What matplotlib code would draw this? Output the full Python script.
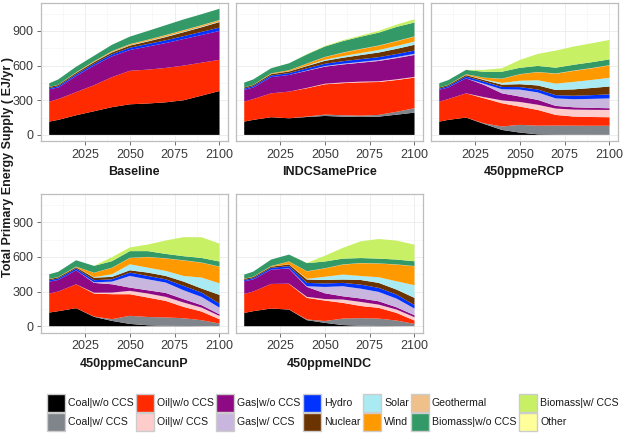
import matplotlib
matplotlib.use("Agg")
import matplotlib.pyplot as plt
from matplotlib.patches import Rectangle
import numpy as np

plt.rcParams['font.family'] = ['Liberation Sans', 'DejaVu Sans']

years = [2005, 2010, 2020, 2030, 2040, 2050, 2060, 2070, 2080, 2090, 2100]

fuels = ["Coal|w/o CCS", "Coal|w/ CCS", "Oil|w/o CCS", "Oil|w/ CCS",
         "Gas|w/o CCS", "Gas|w/ CCS", "Hydro", "Nuclear", "Solar", "Wind",
         "Geothermal", "Biomass|w/o CCS", "Biomass|w/ CCS", "Other"]
colors = ["#000000", "#80858B", "#FF2A00", "#FFCCCC", "#8E0A84", "#C9B6DE",
          "#0033FF", "#6B3300", "#AAEAF2", "#FF9900", "#F0C08A", "#339966",
          "#C8F064", "#FFFF99"]

# EJ/yr, one row per fuel (same order as fuels)
baseline = [
    [115, 130, 170, 205, 240, 265, 272, 282, 300, 340, 380],
    [0, 0, 0, 0, 0, 0, 0, 0, 0, 0, 0],
    [173, 180, 200, 225, 260, 290, 293, 298, 300, 285, 270],
    [0, 0, 0, 0, 0, 0, 0, 0, 0, 0, 0],
    [107, 100, 140, 170, 180, 180, 200, 215, 230, 240, 250],
    [0, 0, 0, 0, 0, 0, 0, 0, 0, 0, 0],
    [10, 12, 14, 16, 18, 20, 22, 24, 25, 27, 29],
    [10, 10, 12, 14, 16, 18, 22, 28, 34, 40, 48],
    [0, 0, 1, 2, 3, 4, 5, 6, 6, 6, 6],
    [1, 2, 4, 5, 6, 7, 8, 9, 9, 9, 9],
    [0, 0, 1, 1, 2, 2, 2, 3, 3, 3, 3],
    [31, 46, 48, 47, 55, 65, 76, 85, 93, 95, 97],
    [0, 0, 0, 0, 0, 0, 0, 0, 0, 0, 0],
    [0, 0, 0, 0, 0, 0, 0, 0, 0, 0, 0],
]

indc_same_price = [
    [115, 130, 153, 144, 155, 164, 158, 155, 158, 175, 193],
    [0, 0, 0, 0, 4, 12, 12, 12, 15, 25, 38],
    [173, 180, 207, 231, 245, 262, 278, 288, 285, 275, 265],
    [0, 0, 0, 0, 3, 5, 6, 6, 6, 6, 6],
    [102, 100, 140, 144, 148, 148, 156, 164, 176, 184, 190],
    [0, 0, 0, 0, 3, 5, 6, 7, 8, 9, 10],
    [10, 12, 14, 16, 18, 20, 22, 24, 25, 26, 28],
    [10, 10, 12, 14, 20, 25, 30, 35, 40, 45, 50],
    [0, 0, 1, 2, 5, 10, 14, 18, 22, 25, 28],
    [1, 2, 5, 8, 15, 22, 28, 33, 36, 40, 42],
    [0, 0, 1, 1, 2, 2, 3, 3, 3, 3, 3],
    [42, 46, 44, 60, 79, 90, 99, 105, 111, 122, 120],
    [0, 0, 0, 0, 3, 5, 8, 10, 15, 20, 28],
    [0, 0, 0, 0, 0, 0, 0, 0, 0, 0, 0],
]

ppm450_rcp = [
    [115, 130, 150, 95, 43, 20, 5, 3, 2, 1, 1],
    [0, 0, 0, 5, 30, 67, 75, 78, 78, 78, 78],
    [173, 180, 210, 217, 201, 158, 136, 92, 79, 76, 74],
    [0, 0, 0, 10, 25, 40, 45, 55, 60, 62, 63],
    [102, 100, 130, 106, 61, 47, 42, 23, 20, 17, 15],
    [0, 0, 0, 10, 35, 60, 65, 65, 70, 78, 85],
    [10, 12, 16, 18, 20, 22, 25, 28, 30, 32, 35],
    [10, 10, 12, 14, 20, 25, 35, 45, 55, 62, 68],
    [0, 0, 1, 5, 15, 30, 45, 55, 65, 70, 75],
    [1, 2, 5, 15, 35, 55, 70, 85, 95, 100, 107],
    [0, 0, 1, 1, 2, 2, 2, 3, 3, 3, 3],
    [36, 40, 38, 50, 60, 55, 52, 50, 50, 50, 50],
    [0, 0, 0, 17, 30, 68, 104, 148, 158, 164, 168],
    [0, 0, 0, 0, 0, 0, 0, 0, 0, 0, 0],
]

ppm450_cancunp = [
    [118, 130, 156, 81, 46, 20, 8, 3, 2, 1, 0],
    [0, 0, 0, 3, 15, 70, 72, 73, 67, 51, 23],
    [165, 170, 207, 199, 216, 187, 168, 143, 98, 75, 37],
    [0, 0, 0, 7, 14, 29, 35, 35, 38, 34, 29],
    [103, 100, 121, 85, 72, 28, 28, 34, 29, 21, 14],
    [0, 0, 0, 5, 23, 101, 95, 90, 77, 72, 58],
    [12, 13, 16, 18, 20, 29, 29, 28, 38, 37, 35],
    [10, 10, 10, 22, 21, 20, 29, 29, 37, 35, 75],
    [0, 0, 1, 5, 23, 52, 43, 44, 49, 95, 100],
    [2, 3, 4, 37, 55, 54, 91, 107, 134, 128, 144],
    [0, 0, 1, 1, 2, 2, 2, 2, 2, 2, 2],
    [40, 45, 55, 59, 56, 58, 50, 38, 35, 40, 43],
    [0, 0, 0, 0, 35, 32, 57, 116, 165, 179, 155],
    [0, 0, 0, 0, 0, 0, 0, 0, 0, 0, 0],
]

ppm450_indc = [
    [115, 130, 153, 144, 52, 29, 10, 4, 2, 1, 0],
    [0, 0, 0, 1, 6, 16, 56, 66, 64, 48, 20],
    [165, 170, 213, 221, 187, 177, 136, 105, 93, 66, 29],
    [0, 0, 0, 2, 9, 13, 29, 35, 28, 29, 29],
    [109, 105, 124, 131, 86, 50, 28, 30, 29, 20, 17],
    [0, 0, 0, 2, 6, 55, 87, 85, 81, 75, 58],
    [11, 11, 15, 19, 29, 30, 29, 35, 35, 35, 29],
    [10, 10, 10, 15, 29, 30, 29, 40, 43, 43, 63],
    [0, 0, 1, 2, 6, 28, 43, 35, 49, 72, 110],
    [2, 3, 4, 23, 64, 72, 86, 110, 118, 144, 164],
    [0, 0, 1, 1, 2, 2, 2, 2, 2, 2, 2],
    [35, 43, 56, 59, 70, 58, 50, 43, 41, 42, 41],
    [0, 0, 0, 0, 2, 50, 93, 145, 170, 164, 144],
    [0, 0, 0, 0, 0, 0, 0, 0, 0, 0, 0],
]

scenarios = ["Baseline", "INDCSamePrice", "450ppmeRCP", "450ppmeCancunP", "450ppmeINDC"]
scenario_data = [baseline, indc_same_price, ppm450_rcp, ppm450_cancunp, ppm450_indc]

W, H = 624, 433
fig = plt.figure(figsize=(W / 100, H / 100), dpi=100)

# panel boxes in pixels: left, top
col_left = [40.7, 235.7, 430.7]
row_top = [2.7, 194.0]
pw, ph = 187.3, 138.5

for i, (name, data) in enumerate(zip(scenarios, scenario_data)):
    r, c = divmod(i, 3)
    ax = fig.add_axes([col_left[c] / W, 1 - (row_top[r] + ph) / H, pw / W, ph / H])
    ax.stackplot(years, *data, colors=colors, linewidth=0, zorder=2)
    ax.set_xlim(2000.25, 2104.75)
    ax.set_ylim(-54.5, 1144.5)
    ax.set_xticks([2025, 2050, 2075, 2100])
    ax.set_xticks([2012.5, 2037.5, 2062.5, 2087.5], minor=True)
    ax.set_yticks([0, 300, 600, 900])
    ax.set_yticks([150, 450, 750, 1050], minor=True)
    ax.grid(which='major', color='#EBEBEB', linewidth=0.6, zorder=0)
    ax.grid(which='minor', color='#F3F3F3', linewidth=0.4, zorder=0)
    ax.set_axisbelow(True)
    for s in ax.spines.values():
        s.set_color('#BDBDBD')
        s.set_linewidth(0.9)
    ax.tick_params(which='major', length=3, width=0.6, color='#555555',
                   labelsize=9, labelcolor='#3A3A3A', pad=2.5)
    ax.tick_params(which='minor', length=0)
    if c != 0:
        ax.tick_params(axis='y', left=False, labelleft=False)
    ax.set_xlabel(name, fontsize=9, fontweight='bold', labelpad=4, color='#1A1A1A')

fig.text(8 / W, 1 - 167 / H, "Total Primary Energy Supply ( EJ/yr )", rotation=90,
         ha='center', va='center', fontsize=9, fontweight='bold', color='#1A1A1A')

# legend: 7 columns x 2 rows, filled column by column
key_x = [46.7, 136.0, 216.0, 303.0, 363.3, 410.7, 519.3]
key_y = [394.0, 412.7]
ks = 18.0
for j, (lab, col) in enumerate(zip(fuels, colors)):
    c, r = divmod(j, 2)
    x0, y0 = key_x[c], key_y[r]
    fig.patches.append(Rectangle((x0 / W, 1 - (y0 + ks) / H), ks / W, ks / H,
                                 transform=fig.transFigure, facecolor=col,
                                 edgecolor='#CCCCCC', linewidth=1.0))
    fig.text((x0 + ks + 3) / W, 1 - (y0 + ks / 2) / H, lab, ha='left', va='center',
             fontsize=7.6, color='#1A1A1A')

fig.savefig("out.png", dpi=100)
